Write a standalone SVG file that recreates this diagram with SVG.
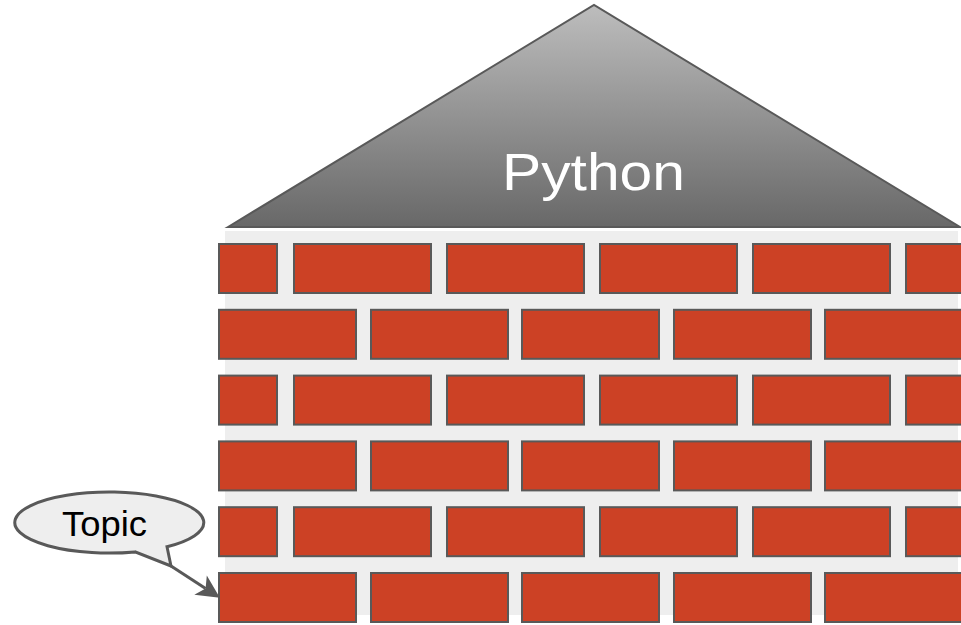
<svg xmlns="http://www.w3.org/2000/svg" width="961" height="625" viewBox="0 0 961 625">
  <defs>
    <linearGradient id="roofFill" x1="0" y1="5" x2="0" y2="227" gradientUnits="userSpaceOnUse">
      <stop offset="0" stop-color="#bdbdbd"/>
      <stop offset="1" stop-color="#686868"/>
    </linearGradient>
    <marker id="arrow" markerUnits="userSpaceOnUse" markerWidth="30" markerHeight="30" refX="6" refY="11.5" orient="auto" overflow="visible">
      <path d="M0,0 L23,11.5 L0,23 L6,11.5 Z" fill="#595959"/>
    </marker>
    <rect id="long" width="137" height="49"/>
    <rect id="short" width="58" height="49"/>
  </defs>
  <style>
    .brick { fill: #cc4125; stroke: #595959; stroke-width: 2; }
    .label { font-family: "Liberation Sans", Arial, sans-serif; }
  </style>

  <!-- roof -->
  <g id="roof">
    <polygon points="228,227 594,5 960,227" fill="url(#roofFill)" stroke="#595959" stroke-width="2" stroke-linejoin="miter"/>
    <text class="label" x="502" y="190" font-size="52" fill="#ffffff" textLength="183" lengthAdjust="spacingAndGlyphs">Python</text>
  </g>

  <!-- wall with brick courses -->
  <g id="wall">
    <rect x="225" y="231" width="733" height="384" fill="#eeeeee"/>
    <!-- course 1 -->
    <g class="brick">
      <use href="#short" x="219" y="244"/>
      <use href="#long" x="294" y="244"/>
      <use href="#long" x="447" y="244"/>
      <use href="#long" x="600" y="244"/>
      <use href="#long" x="753" y="244"/>
      <use href="#long" x="906" y="244"/>
    </g>
    <!-- course 2 -->
    <g class="brick">
      <use href="#long" x="219" y="309.8"/>
      <use href="#long" x="371" y="309.8"/>
      <use href="#long" x="522" y="309.8"/>
      <use href="#long" x="674" y="309.8"/>
      <use href="#long" x="825" y="309.8"/>
    </g>
    <!-- course 3 -->
    <g class="brick">
      <use href="#short" x="219" y="375.6"/>
      <use href="#long" x="294" y="375.6"/>
      <use href="#long" x="447" y="375.6"/>
      <use href="#long" x="600" y="375.6"/>
      <use href="#long" x="753" y="375.6"/>
      <use href="#long" x="906" y="375.6"/>
    </g>
    <!-- course 4 -->
    <g class="brick">
      <use href="#long" x="219" y="441.4"/>
      <use href="#long" x="371" y="441.4"/>
      <use href="#long" x="522" y="441.4"/>
      <use href="#long" x="674" y="441.4"/>
      <use href="#long" x="825" y="441.4"/>
    </g>
    <!-- course 5 -->
    <g class="brick">
      <use href="#short" x="219" y="507.2"/>
      <use href="#long" x="294" y="507.2"/>
      <use href="#long" x="447" y="507.2"/>
      <use href="#long" x="600" y="507.2"/>
      <use href="#long" x="753" y="507.2"/>
      <use href="#long" x="906" y="507.2"/>
    </g>
    <!-- course 6 -->
    <g class="brick">
      <use href="#long" x="219" y="573"/>
      <use href="#long" x="371" y="573"/>
      <use href="#long" x="522" y="573"/>
      <use href="#long" x="674" y="573"/>
      <use href="#long" x="825" y="573"/>
    </g>
  </g>

  <!-- speech bubble -->
  <g id="topic">
    <path d="M135,551.9 A94.5,30.5 0 1 1 167,546.7 L171,566 Z" fill="#eeeeee" stroke="#595959" stroke-width="3" stroke-linejoin="miter"/>
    <text class="label" x="62" y="536" font-size="35" fill="#000000" textLength="85" lengthAdjust="spacingAndGlyphs">Topic</text>
  </g>

  <!-- connectors -->
  <g id="connectors">
    <line x1="171" y1="566" x2="205.6" y2="588.4" stroke="#595959" stroke-width="3" marker-end="url(#arrow)"/>
  </g>
</svg>
